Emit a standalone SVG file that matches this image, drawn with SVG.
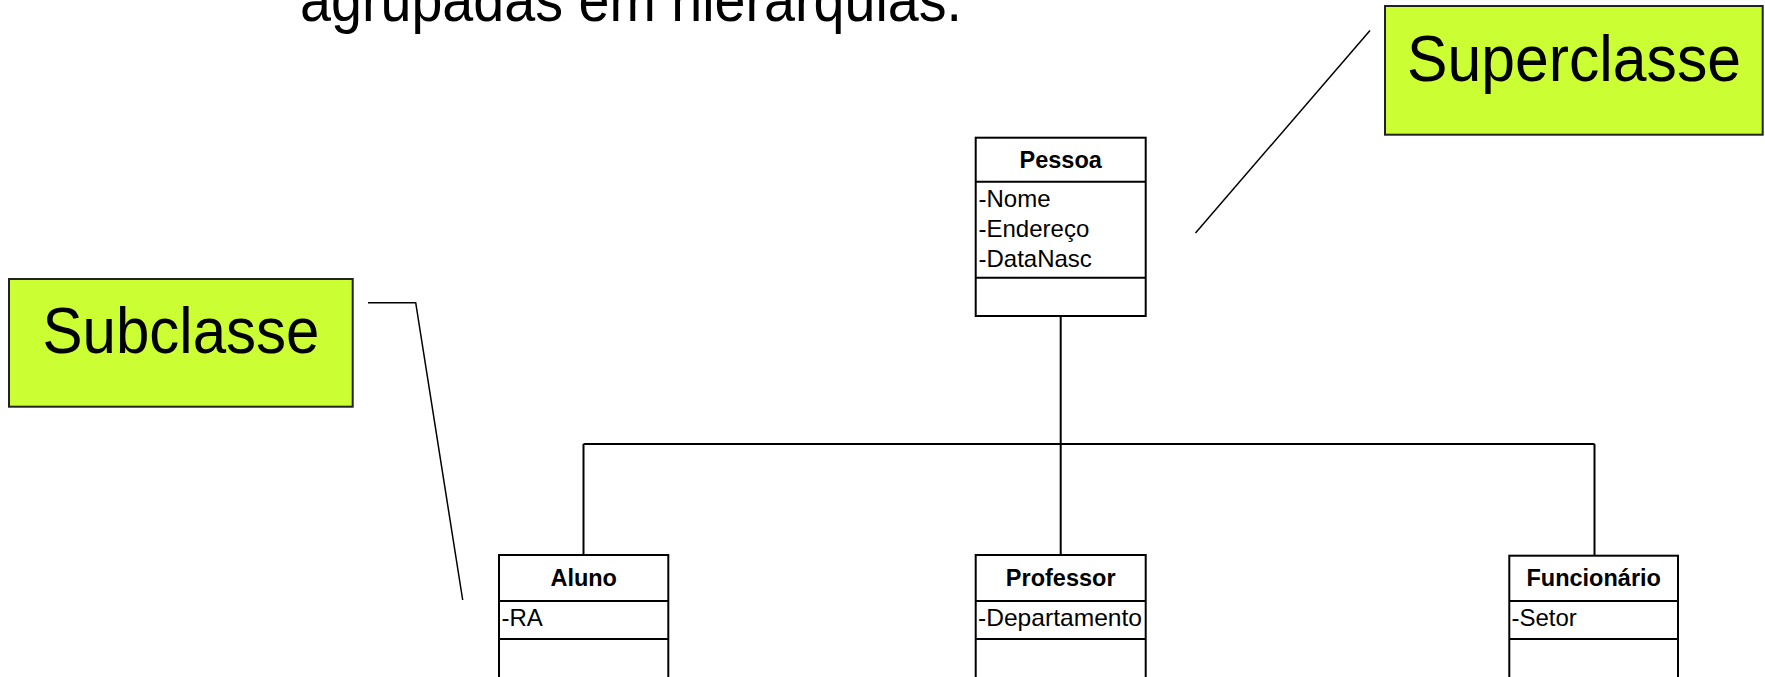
<svg xmlns="http://www.w3.org/2000/svg" width="1765" height="677" viewBox="0 0 1765 677">
<style>
.box{fill:#ffffff;stroke:#000000;stroke-width:2}
.div{stroke:#000000;stroke-width:2}
.conn{fill:none;stroke:#000000;stroke-width:2}
.lead{fill:none;stroke:#000000;stroke-width:1.5}
.callout{fill:#CCFF33;stroke:#222222;stroke-width:2}
.hdr{font-family:"Liberation Sans",Arial,sans-serif;font-weight:bold;font-size:23.5px;text-anchor:middle;fill:#000}
.attr{font-family:"Liberation Sans",Arial,sans-serif;font-size:24px;fill:#000}
.big{font-family:"Liberation Sans",Arial,sans-serif;font-size:64px;fill:#000;text-anchor:middle}
.title{font-family:"Liberation Sans",Arial,sans-serif;font-size:62px;fill:#000}
</style>
<rect width="1765" height="677" fill="#ffffff"/>
<text class="title" x="300" y="21" textLength="662" lengthAdjust="spacingAndGlyphs">agrupadas em hierarquias.</text>

<g id="connectors">
<line class="conn" x1="1060.7" y1="316" x2="1060.7" y2="555"/>
<line class="conn" x1="583.5" y1="444" x2="1594.5" y2="444"/>
<line class="conn" x1="583.5" y1="444" x2="583.5" y2="555"/>
<line class="conn" x1="1594.5" y1="444" x2="1594.5" y2="555.7"/>
<polyline class="lead" points="368,302.7 415.7,302.7 462.7,600"/>
<line class="lead" x1="1370" y1="30.5" x2="1195.5" y2="233"/>
</g>

<g id="pessoa">
<rect class="box" x="975.7" y="137.7" width="170" height="178.3"/>
<line class="div" x1="975.7" y1="181.7" x2="1145.7" y2="181.7"/>
<line class="div" x1="975.7" y1="277.7" x2="1145.7" y2="277.7"/>
<text class="hdr" x="1060.7" y="167.7">Pessoa</text>
<text class="attr" x="978.5" y="207">-Nome</text>
<text class="attr" x="978.5" y="237">-Endereço</text>
<text class="attr" x="978.5" y="266.7">-DataNasc</text>
</g>

<g id="aluno">
<rect class="box" x="499" y="555" width="169.3" height="140"/>
<line class="div" x1="499" y1="601" x2="668.3" y2="601"/>
<line class="div" x1="499" y1="639" x2="668.3" y2="639"/>
<text class="hdr" x="583.7" y="585.7">Aluno</text>
<text class="attr" x="501.5" y="625.7">-RA</text>
</g>

<g id="professor">
<rect class="box" x="975.7" y="555" width="170" height="140"/>
<line class="div" x1="975.7" y1="601" x2="1145.7" y2="601"/>
<line class="div" x1="975.7" y1="639" x2="1145.7" y2="639"/>
<text class="hdr" x="1060.7" y="585.7">Professor</text>
<text class="attr" x="978" y="625.7" textLength="164" lengthAdjust="spacingAndGlyphs">-Departamento</text>
</g>

<g id="funcionario">
<rect class="box" x="1509.3" y="555.7" width="168.7" height="140"/>
<line class="div" x1="1509.3" y1="601" x2="1678" y2="601"/>
<line class="div" x1="1509.3" y1="639" x2="1678" y2="639"/>
<text class="hdr" x="1593.7" y="585.7">Funcionário</text>
<text class="attr" x="1511.5" y="625.7">-Setor</text>
</g>

<g id="subclasse">
<rect class="callout" x="9" y="279" width="343.7" height="127.7"/>
<text class="big" x="181" y="352.7" font-size="63" textLength="277" lengthAdjust="spacingAndGlyphs">Subclasse</text>
</g>

<g id="superclasse">
<rect class="callout" x="1385" y="6" width="377.7" height="128.7"/>
<text class="big" x="1574" y="81" font-size="65" textLength="334" lengthAdjust="spacingAndGlyphs">Superclasse</text>
</g>
</svg>
